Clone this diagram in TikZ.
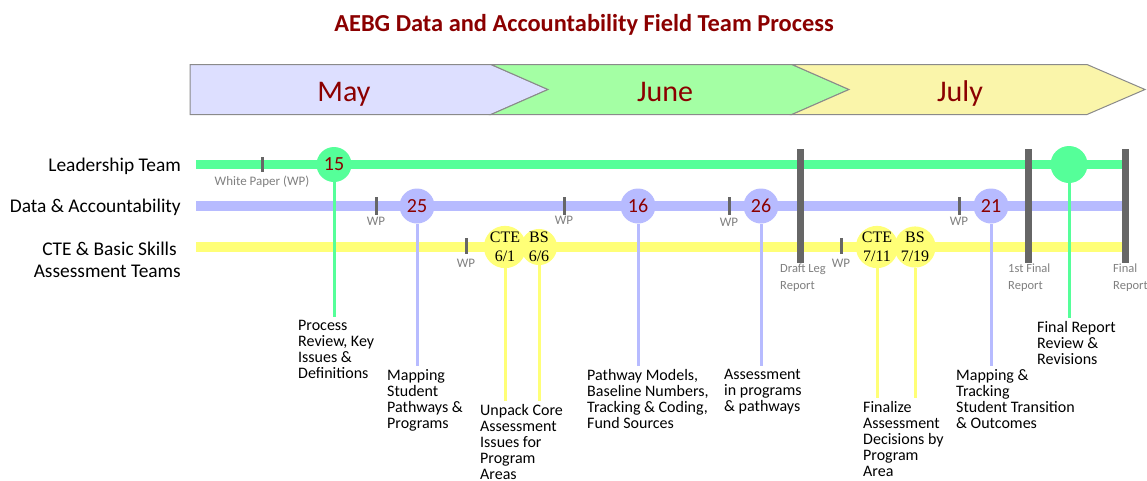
\documentclass[tikz,border=0pt]{standalone}
\usepackage{fontspec}
\setmainfont{Carlito}
\newfontfamily\seriffont{Liberation Serif}
\definecolor{lgreen}{HTML}{55FF99}
\definecolor{lblue}{HTML}{B7BBFF}
\definecolor{lyellow}{HTML}{FFFF77}
\definecolor{mayfill}{HTML}{DDDFFF}
\definecolor{junefill}{HTML}{A4FFA4}
\definecolor{julyfill}{HTML}{FAF5AA}
\definecolor{darkred}{HTML}{8B0000}
\definecolor{tickgray}{HTML}{666666}
\definecolor{wpgray}{HTML}{7F7F7F}
\definecolor{chevgray}{HTML}{8A8A8A}
\begin{document}
\begin{tikzpicture}[x=1pt,y=-1pt,
  chev/.style={draw=chevgray, line width=1pt, line join=miter},
  monthtxt/.style={anchor=base, text=darkred, font=\fontsize{30}{32}\selectfont, inner sep=0},
  rowlbl/.style={anchor=east, align=right, inner sep=0, font=\fontsize{19.4}{22}\selectfont},
  rowline/.style={line width=10pt},
  wptick/.style={draw=tickgray, line width=3pt},
  bigbar/.style={draw=tickgray, line width=7pt},
  wplbl/.style={text=wpgray, inner sep=0, font=\fontsize{13}{14}\selectfont},
  barlbl/.style={text=wpgray, inner sep=0, anchor=north west, align=left, font=\fontsize{12.5}{17}\selectfont},
  numcirc/.style={circle, inner sep=0, minimum size=35pt, text=darkred, font=\fontsize{20}{20}\selectfont},
  ycirc/.style={circle, inner sep=0, minimum size=35pt, fill=lyellow, align=center, text=black, font=\seriffont\fontsize{16}{19}\selectfont},
  desc/.style={anchor=north west, align=left, inner xsep=0, inner ysep=3pt, font=\fontsize{16}{16}\selectfont},
  conn/.style={line width=3pt}
]
\useasboundingbox (0,0) rectangle (1147,480);

% title
\node[anchor=base, text=darkred, font=\bfseries\fontsize{24.4}{26}\selectfont] (title) at (584,31) {AEBG Data and Accountability Field Team Process};

% month chevrons
\filldraw[chev, fill=mayfill] (190,64.5) -- (491,64.5) -- (548,89.5) -- (491,114.5) -- (190,114.5) -- cycle;
\filldraw[chev, fill=junefill] (491,64.5) -- (792,64.5) -- (849,89.5) -- (792,114.5) -- (491,114.5) -- (548,89.5) -- cycle;
\filldraw[chev, fill=julyfill] (792,64.5) -- (1087,64.5) -- (1145,89.5) -- (1087,114.5) -- (792,114.5) -- (849,89.5) -- cycle;
\node[monthtxt] (may) at (344,101) {May};
\node[monthtxt] (june) at (665,101) {June};
\node[monthtxt] (july) at (960,101) {July};

% row labels
\node[rowlbl] (lead) at (181,166) {Leadership Team};
\node[rowlbl] (data) at (181,207) {Data \& Accountability};
\node[rowlbl] (cte) at (181,260) {CTE \& Basic Skills\hspace*{4pt}\\Assessment Teams};

% row lines
\draw[rowline, lgreen, line width=9pt] (196,164.5) -- (1122,164.5);
\draw[rowline, lblue] (196,206) -- (1122,206);
\draw[rowline, lyellow] (196,247) -- (1122,247);

% white paper ticks
\draw[wptick] (262,157) -- (262,172);
\node[wplbl] (wp0) at (262,182) {White Paper (WP)};
\draw[wptick] (376,197) -- (376,215);
\node[wplbl] (wp1) at (376,221) {WP};
\draw[wptick] (564,197) -- (564,215);
\node[wplbl] (wp2) at (564,220) {WP};
\draw[wptick] (729,197) -- (729,215);
\node[wplbl] (wp3) at (729,222) {WP};
\draw[wptick] (959,197) -- (959,215);
\node[wplbl] (wp4) at (959,221) {WP};
\draw[wptick] (466,238) -- (466,254);
\node[wplbl] (wp5) at (466,263) {WP};
\draw[wptick] (841,238) -- (841,254);
\node[wplbl] (wp6) at (841,263) {WP};

% description nodes
\node[desc] (d15) at (298,317) {Process\\Review, Key\\Issues \&\\Definitions};
\node[desc] (d25) at (387,366) {Mapping\\Student\\Pathways \&\\Programs};
\node[desc] (d6) at (480,401) {Unpack Core\\Assessment\\Issues for\\Program\\Areas};
\node[desc] (d16) at (587,366) {Pathway Models,\\Baseline Numbers,\\Tracking \& Coding,\\Fund Sources};
\node[desc] (d26) at (724,366) {Assessment\\in programs\\\& pathways};
\node[desc] (d7) at (863,398) {Finalize\\Assessment\\Decisions by\\Program\\Area};
\node[desc] (d21) at (956,366) {Mapping \&\\Tracking\\Student Transition\\\& Outcomes};
\node[desc] (dfin) at (1037,318) {Final Report\\Review \&\\Revisions};

% circles
\node[numcirc, fill=lgreen] (c15) at (334,164.5) {15};
\node[numcirc, fill=lblue] (c25) at (417,206) {25};
\node[numcirc, fill=lblue] (c16) at (638,206) {16};
\node[numcirc, fill=lblue] (c26) at (761,206) {26};
\node[numcirc, fill=lblue] (c21) at (991,206) {21};
\node[numcirc, fill=lgreen, minimum size=37pt] (cfin) at (1069,164.5) {};
\node[ycirc] (cte61) at (505,247) {CTE\\6/1};
\node[ycirc] (bs66) at (539,247) {BS\\6/6};
\node[ycirc] (cte711) at (877,247) {CTE\\7/11};
\node[ycirc] (bs719) at (915,247) {BS\\7/19};

% connectors
\draw[conn, lgreen] (c15.south) -- (c15.south |- d15.north);
\draw[conn, lblue] (c25.south) -- (c25.south |- d25.north);
\draw[conn, lblue] (c16.south) -- (c16.south |- d16.north);
\draw[conn, lblue] (c26.south) -- (c26.south |- d26.north);
\draw[conn, lblue] (c21.south) -- (c21.south |- d21.north);
\draw[conn, lgreen] (cfin.south) -- (cfin.south |- dfin.north);
\draw[conn, lyellow] (cte61.south) -- (cte61.south |- d6.north);
\draw[conn, lyellow] (bs66.south) -- (bs66.south |- d6.north);
\draw[conn, lyellow] (cte711.south) -- (cte711.south |- d7.north);
\draw[conn, lyellow] (bs719.south) -- (bs719.south |- d7.north);

% report bars
\draw[bigbar] (800,149) -- (800,263);
\node[barlbl] (draft) at (780,264) {Draft Leg\\Report};
\draw[bigbar] (1028,149) -- (1028,263);
\node[barlbl] (first) at (1008,264) {1st Final\\Report};
\draw[bigbar] (1125,149) -- (1125,263);
\node[barlbl] (final) at (1113,264) {Final\\Report};
\end{tikzpicture}
\end{document}
